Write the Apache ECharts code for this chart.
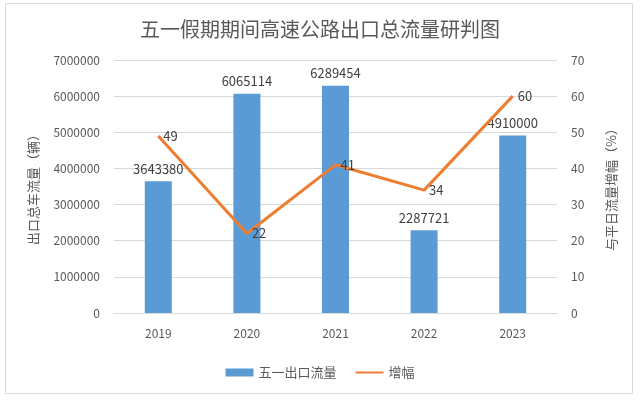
<!DOCTYPE html>
<html><head><meta charset="utf-8">
<script src="https://cdn.jsdelivr.net/npm/echarts@6/dist/echarts.min.js"></script>
<style>html,body{margin:0;padding:0;background:#fff}#c{width:640px;height:400px}</style>
</head><body><div id="c"></div>
<script>
var years = ['2019','2020','2021','2022','2023'];
var flow = [3643380, 6065114, 6289454, 2287721, 4910000];
var growth = [49, 22, 41, 34, 60];
var leftTicks = [0, 7000000, 1000000];
var rightTicks = [0, 70, 10];

var font = '"Noto Sans CJK SC", "Noto Sans", sans-serif';
var chart = echarts.init(document.getElementById('c'), null, {renderer: 'canvas'});
chart.setOption({
  backgroundColor: '#fff',
  textStyle: {fontFamily: font},
  graphic: [{type: 'rect', shape: {x: 5.5, y: 3.5, width: 627, height: 390}, style: {fill: 'none', stroke: '#d9d9d9', lineWidth: 1}, silent: true}],
  title: {text: '五一假期期间高速公路出口总流量研判图', left: 'center', top: 14,
    textStyle: {fontSize: 20, fontWeight: 'normal', color: '#595959', fontFamily: font}},
  legend: {bottom: 16, left: 'center', itemGap: 18, itemWidth: 28, itemHeight: 8,
    textStyle: {fontSize: 13, color: '#595959', fontFamily: font},
    data: [{name: '五一出口流量', icon: 'rect'}, {name: '增幅'}]},
  grid: {left: 114, right: 83, top: 60, bottom: 87},
  xAxis: {type: 'category', data: years,
    axisLine: {lineStyle: {color: '#d9d9d9', width: 1}}, axisTick: {show: false},
    axisLabel: {color: '#595959', fontSize: 12, margin: 14}},
  yAxis: [{type: 'value', min: leftTicks[0], max: leftTicks[1], interval: leftTicks[2],
    name: '出口总车流量（辆）', nameLocation: 'middle', nameRotate: 90, nameGap: 74,
    nameTextStyle: {fontSize: 13, color: '#595959'},
    axisLine: {show: false}, axisTick: {show: false},
    axisLabel: {color: '#595959', fontSize: 12, margin: 14, formatter: function (v) { return String(v); }},
    splitLine: {lineStyle: {color: '#d9d9d9'}}},
   {type: 'value', min: rightTicks[0], max: rightTicks[1], interval: rightTicks[2],
    name: '与平日流量增幅（%）', nameLocation: 'middle', nameRotate: 90, nameGap: 48,
    nameTextStyle: {fontSize: 13, color: '#595959'},
    axisLine: {show: false}, axisTick: {show: false},
    axisLabel: {color: '#595959', fontSize: 12, margin: 14},
    splitLine: {show: false}}],
  series: [{name: '五一出口流量', type: 'bar', data: flow, barWidth: 27,
    itemStyle: {color: '#5b9bd5'},
    label: {show: true, position: 'top', distance: 6, color: '#404040', fontSize: 13}},
   {name: '增幅', type: 'line', yAxisIndex: 1, data: growth, symbol: 'circle', symbolSize: 2,
    showSymbol: true,
    lineStyle: {color: '#ed7d31', width: 3}, itemStyle: {color: '#ed7d31', opacity: 0},
    label: {show: true, position: 'right', distance: 4, color: '#404040', fontSize: 13, opacity: 1}}]
});
</script></body></html>
